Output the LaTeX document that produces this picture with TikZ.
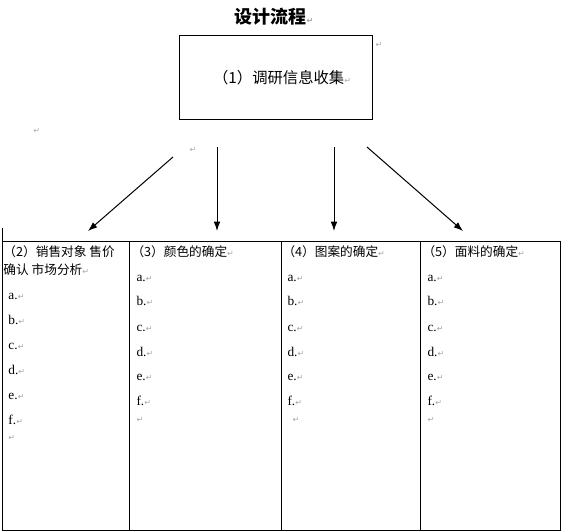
\documentclass[tikz,border=0pt]{standalone}
\usepackage{fontspec}
\setmainfont{Liberation Serif}
\newfontfamily\cjk{Noto Sans CJK SC}
\newfontfamily\markfont{DejaVu Sans}
\usepackage{tikz}
\usetikzlibrary{arrows.meta}
\newcommand{\pmark}{{\markfont\color{black!35}\fontsize{6}{6}\selectfont ↵}}

\begin{document}
\begin{tikzpicture}[x=0.75pt,y=-0.75pt,>={Latex[length=7pt,width=5pt]},line width=0.75pt,
    txt/.style={inner sep=0pt,anchor=west,font=\cjk\fontsize{9.5}{13.5}\selectfont},
    item/.style={inner sep=0pt,anchor=base west,font=\fontsize{10}{10}\selectfont},
    pm/.style={inner sep=0pt,anchor=west}]
    \useasboundingbox (0,0) rectangle (561,532);

    % title and first step
    \node[inner sep=0pt,anchor=west,font=\cjk\bfseries\fontsize{13.5}{15}\selectfont] (title) at (234,17) {设计流程\pmark};
    \node[draw,minimum width=144.75pt,minimum height=63pt,anchor=north west] (collect) at (179,35) {};
    \node[inner sep=0pt,font=\cjk\fontsize{11.5}{13}\selectfont] (collecttxt) at ([xshift=2pt]collect.center) {（1）调研信息收集\rlap{\pmark}};
    \node[pm] (m1) at (375,45) {\pmark};
    \node[pm] (m2) at (33,131) {\pmark};
    \node[pm] (m3) at (189,150) {\pmark};

    % arrows
    \coordinate (s2) at (173,157);  \coordinate (e2) at (88,231);
    \coordinate (s3) at (217,147);  \coordinate (e3) at (217,231);
    \coordinate (s4) at (334,147);  \coordinate (e4) at (334,231);
    \coordinate (s5) at (367,147);  \coordinate (e5) at (463,231);
    \path [->]
    (s2) edge (e2)
    (s3) edge (e3)
    (s4) edge (e4)
    (s5) edge (e5);

    % table
    \draw (2,228) -- (2,530) -- (560,530) -- (560,241) -- (2,241);
    \draw (129,241) -- (129,530);
    \draw (281,241) -- (281,530);
    \draw (420,241) -- (420,530);

    % (2)
    \node[txt] (h2) at (3,252) {（2）销售对象 售价};
    \node[txt] (h2b) at (3,270) {确认 市场分析\pmark};
    \node[item] (a2) at (8,299.5) {a.\pmark};
    \node[item] (b2) at (8,324.5) {b.\pmark};
    \node[item] (c2) at (8,349.5) {c.\pmark};
    \node[item] (d2) at (8,374.5) {d.\pmark};
    \node[item] (e2t) at (8,399.5) {e.\pmark};
    \node[item] (f2) at (8,424.5) {f.\pmark};
    \node[pm] (g2) at (8,438) {\pmark};

    % (3)
    \node[txt] (h3) at (131,252) {（3）颜色的确定\pmark};
    \node[item] (a3) at (136,281.5) {a.\pmark};
    \node[item] (b3) at (136,305.5) {b.\pmark};
    \node[item] (c3) at (136,331.5) {c.\pmark};
    \node[item] (d3) at (136,356.5) {d.\pmark};
    \node[item] (e3t) at (136,380.5) {e.\pmark};
    \node[item] (f3) at (136,405.5) {f.\pmark};
    \node[pm] (g3) at (136,420) {\pmark};

    % (4)
    \node[txt] (h4) at (282,252) {（4）图案的确定\pmark};
    \node[item] (a4) at (287,281.5) {a.\pmark};
    \node[item] (b4) at (287,305.5) {b.\pmark};
    \node[item] (c4) at (287,331.5) {c.\pmark};
    \node[item] (d4) at (287,356.5) {d.\pmark};
    \node[item] (e4t) at (287,380.5) {e.\pmark};
    \node[item] (f4) at (287,405.5) {f.\pmark};
    \node[pm] (g4) at (292,420) {\pmark};

    % (5)
    \node[txt] (h5) at (422,252) {（5）面料的确定\pmark};
    \node[item] (a5) at (427,281.5) {a.\pmark};
    \node[item] (b5) at (427,305.5) {b.\pmark};
    \node[item] (c5) at (427,331.5) {c.\pmark};
    \node[item] (d5) at (427,356.5) {d.\pmark};
    \node[item] (e5t) at (427,380.5) {e.\pmark};
    \node[item] (f5) at (427,405.5) {f.\pmark};
    \node[pm] (g5) at (427,420) {\pmark};
\end{tikzpicture}
\end{document}
